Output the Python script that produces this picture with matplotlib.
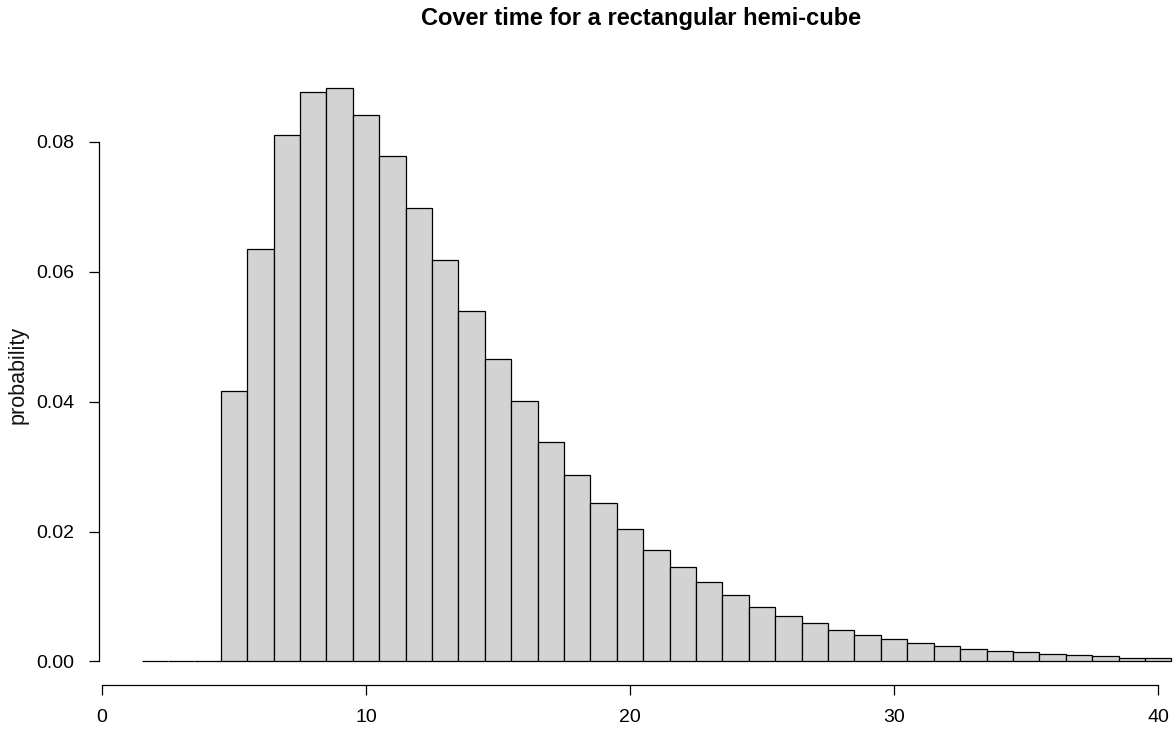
import matplotlib
matplotlib.use("Agg")
import matplotlib.pyplot as plt

# Histogram data (bins of width 1 centred at integers)
bin_centers = list(range(2, 41))
probabilities = [0.0, 0.0, 0.0,
                 0.0416, 0.0635, 0.0810, 0.0876, 0.0882, 0.0841, 0.0777, 0.0697,
                 0.0617, 0.0539, 0.0466, 0.0401, 0.0338, 0.0287, 0.0244, 0.0204,
                 0.0172, 0.0145, 0.0123, 0.0102, 0.0084, 0.0070, 0.0059, 0.0049,
                 0.0041, 0.0035, 0.0029, 0.0024, 0.0019, 0.0016, 0.0014, 0.0012,
                 0.0010, 0.0008, 0.0005, 0.0005]
x_ticks = [0, 10, 20, 30, 40]
y_ticks = [0.00, 0.02, 0.04, 0.06, 0.08]
y_ticklabels = ["0.00", "0.02", "0.04", "0.06", "0.08"]
title = "Cover time for a rectangular hemi-cube"
ylabel = "probability"

plt.rcParams['font.family'] = ['Liberation Sans', 'DejaVu Sans']

fig = plt.figure(figsize=(11.74, 7.34), dpi=100)
ax = fig.add_axes([99/1174, 1 - 684.5/734, 1 - 99/1174, (684.5 - 65.5)/734])

ax.bar(bin_centers, probabilities, width=1.0, color="#d3d3d3",
       edgecolor="black", linewidth=0.9, align="center")

ax.set_xlim(-0.11, 40.6)
ax.set_ylim(-0.00354, 0.0917)

for s in ["top", "right"]:
    ax.spines[s].set_visible(False)
ax.spines["left"].set_bounds(0, 0.08)
ax.spines["bottom"].set_bounds(0, 40)
ax.spines["left"].set_linewidth(0.9)
ax.spines["bottom"].set_linewidth(0.9)

ax.set_xticks(x_ticks)
ax.set_yticks(y_ticks)
ax.set_yticklabels(y_ticklabels)
ax.tick_params(axis="both", length=7.5, width=0.9, labelsize=14,
               colors="black")
ax.tick_params(axis="x", pad=10)
ax.tick_params(axis="y", pad=10)

ax.yaxis.set_label_coords(-(99 - 18) / (1174 - 99), 0.515)
ax.set_ylabel(ylabel, fontsize=15.5, color="#111111", va="center")
fig.text((99 + 1174) / 2 / 1174 + 0.004, 1 - 18.5/734, title, ha="center", va="center",
         fontsize=17, fontweight="bold")

fig.savefig("out.png", dpi=100)
